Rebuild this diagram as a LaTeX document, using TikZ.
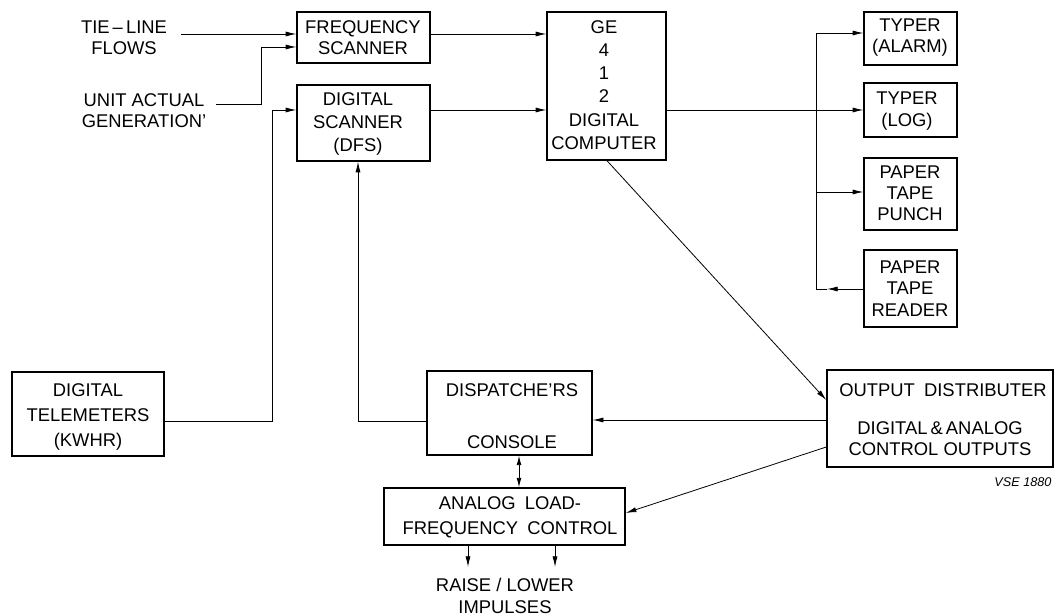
\documentclass[tikz,border=0pt]{standalone}
\usepackage{fontspec}
\setmainfont{Liberation Sans}
\usetikzlibrary{arrows.meta,fit}
\tikzset{
  box/.style={draw, line width=1.1pt, inner sep=0pt},
  conn/.style={line width=0.6pt},
  arr/.style={conn, -{Latex[length=8pt,width=3.8pt]}},
  arrb/.style={conn, {Latex[length=7pt,width=3.6pt]}-{Latex[length=7pt,width=3.6pt]}},
  txt/.style={align=center, inner sep=0pt, font=\fontsize{13.8pt}{15.9pt}\selectfont},
  txtw/.style={align=center, inner sep=0pt, font=\fontsize{13.8pt}{18.75pt}\selectfont},
  txtg/.style={align=center, inner sep=0pt, font=\fontsize{13.8pt}{17.4pt}\selectfont},
}
\begin{document}
\begin{tikzpicture}[x=0.75pt,y=-0.75pt]
\useasboundingbox (0,0) rectangle (1056,616);
% boxes
\node[box, fit={(297,12) (430,63)}] (freq) {};
\node[box, fit={(297,85) (430,161)}] (dfs) {};
\node[box, fit={(547,12) (666,160)}] (ge) {};
\node[box, fit={(864,12) (957,65)}] (alarm) {};
\node[box, fit={(864,83) (957,137)}] (log) {};
\node[box, fit={(864,158) (957,230)}] (punch) {};
\node[box, fit={(864,250) (957,327)}] (reader) {};
\node[box, fit={(12,372) (164,456)}] (tele) {};
\node[box, fit={(427,371) (592,455)}] (cons) {};
\node[box, fit={(384,488) (625,545)}] (ana) {};
\node[box, fit={(827,370) (1053,467)}] (out) {};
% texts
\node[txt] (tietxt) at (124,37.5) {TIE\,--\,LINE\\FLOWS};
\node[txt] (unittxt) at (144,111) {UNIT ACTUAL\\GENERATION'};
\node[txt] (freqtxt) at (363,37.5) {FREQUENCY\\SCANNER};
\node[txtg] (dfstxt) at (358,124) {DIGITAL\\SCANNER\\(DFS)};
\node[txtg] (getxt) at (604,85) {GE\\4\\1\\2\\DIGITAL\\COMPUTER};
\node[txt] (alarmtxt) at (910,37.5) {TYPER\\(ALARM)};
\node[txt] (logtxt) at (907,111) {TYPER\\(LOG)};
\node[txt] (punchtxt) at (910,193.5) {PAPER\\TAPE\\PUNCH};
\node[txt] (readertxt) at (910,288.5) {PAPER\\TAPE\\READER};
\node[txtw] (teletxt) at (88,417) {DIGITAL\\TELEMETERS\\(KWHR)};
\node[txt] (constxt1) at (512,390) {DISPATCHE'RS};
\node[txt] (constxt2) at (512,442) {CONSOLE};
\node[txtw] (anatxt) at (510,517.5) {ANALOG\hspace{0.5em}LOAD-\\FREQUENCY\hspace{0.5em}CONTROL};
\node[txt] (raisetxt) at (505,596) {RAISE / LOWER\\IMPULSES};
\node[txt] (outtxt1) at (943,390) {OUTPUT\hspace{0.5em}DISTRIBUTER};
\node[txt] (outtxt2) at (940,439) {DIGITAL\,\&\,ANALOG\\CONTROL OUTPUTS};
\node[inner sep=0pt, font=\fontsize{9.5pt}{11pt}\selectfont\itshape] (vse) at (1023,482) {VSE 1880};
% connectors
\coordinate (t1) at (181,34);
\draw[arr] (t1) -- (t1 -| freq.west);
\coordinate (u1) at (216,104);
\draw[arr] (u1) -- (261,104) |- (freq.west |- 0,47);
\draw[arr] (tele.east |- 0,421) -- (272,421) |- (dfs.west |- 0,110);
\draw[arr] (cons.west |- 0,421) -| (dfs.south -| 358,0);
\draw[arr] (freq.east |- 0,34) -- (ge.west |- 0,34);
\draw[arr] (dfs.east |- 0,110) -- (ge.west |- 0,110);
\draw[arr] (ge.east |- 0,110) -- (log.west |- 0,110);
\coordinate (b1) at (816,289);
\draw[conn] (b1) -- (816,33);
\draw[arr] (816,33) -- (alarm.west |- 0,33);
\draw[arr] (816,192) -- (punch.west |- 0,192);
\draw[arr] (reader.west |- 0,289) -- (827,289);
\draw[conn] (827,289) -- (b1);
\draw[arr] (ge.south -| 607,0) -- (out.west |- 0,400);
\draw[arr] (out.west |- 0,420) -- (cons.east |- 0,420);
\draw[arr] (out.west |- 0,447) -- (ana.east |- 0,513);
\draw[arrb] (cons.south -| 519,0) -- (ana.north -| 519,0);
\draw[arr] (ana.south -| 468,0) -- (468,567);
\draw[arr] (ana.south -| 555,0) -- (555,567);
\end{tikzpicture}
\end{document}
